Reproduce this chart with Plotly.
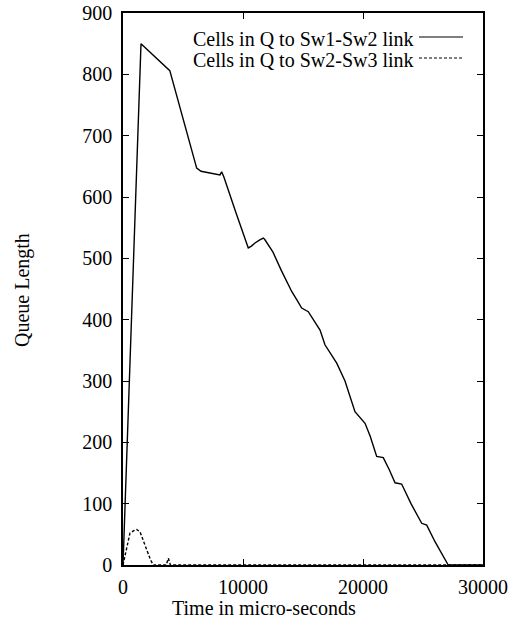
import plotly.graph_objects as go

# Queue occupancy over time (micro-seconds, cells)
t_sw12 = [0, 1500, 3900, 5000, 6140, 6500, 7000, 7500, 7900, 8080, 8220, 8400,
          9400, 10440, 10700, 11000, 11400, 11690, 11800, 12500, 13200, 14060,
          14500, 14890, 15440, 16000, 16420, 16830, 17300, 17810, 18500, 19330,
          20170, 20600, 21140, 21690, 22200, 22670, 23220, 24000, 24890, 25310,
          26000, 26500, 26970, 27100, 30000]
q_sw12 = [0, 850, 806, 729, 647, 642, 640, 638, 636, 636, 641, 633,
          575, 517, 520, 525, 530, 533, 531, 510, 480, 446,
          432, 419, 413, 396, 383, 359, 345, 329, 300, 250,
          231, 210, 177, 175, 155, 134, 132, 100, 68, 65,
          38, 20, 3, 0, 0]

t_sw23 = [0, 300, 580, 900, 1140, 1420, 1700, 2000, 2300, 2530, 3600, 3780,
          3950, 30000]
q_sw23 = [0, 30, 52, 56, 58, 54, 40, 25, 8, 0, 0, 11, 0, 0]

series_names = ["Cells in Q to Sw1-Sw2 link", "Cells in Q to Sw2-Sw3 link"]
series_dash = ["solid", "3px,2px"]

x_ticks = [0, 10000, 20000, 30000]
y_ticks = [0, 100, 200, 300, 400, 500, 600, 700, 800, 900]

FONT = "Liberation Serif"
FS = 20
W, H = 516, 624
L, R, T, B = 123, 33, 13, 59
PW, PH = W - L - R, H - T - B


def px_x(px):
    return (px - L) / PW


def px_y(py):
    return 1 - (py - T) / PH


fig = go.Figure()
for name, tx, qy, dash in zip(series_names, [t_sw12, t_sw23], [q_sw12, q_sw23], series_dash):
    fig.add_trace(go.Scatter(x=tx, y=qy, mode="lines", name=name,
                             line=dict(color="black", width=1.4, dash=dash),
                             showlegend=False))

# gnuplot-style key: text right-aligned, line sample to the right
for i, (name, dash) in enumerate(zip(series_names, series_dash)):
    ypx = 39 + 21 * i
    fig.add_annotation(x=px_x(416), y=px_y(ypx), xref="paper", yref="paper",
                       text=name, showarrow=False, xanchor="right", yanchor="middle",
                       font=dict(family=FONT, size=FS, color="black"))
    fig.add_shape(type="line", xref="paper", yref="paper",
                  x0=px_x(419), x1=px_x(463), y0=px_y(ypx - 2), y1=px_y(ypx - 2),
                  line=dict(color="black", width=1.2, dash=dash))

fig.add_annotation(x=px_x(22), y=px_y(290), xref="paper", yref="paper",
                   text="Queue Length", showarrow=False, textangle=-90,
                   xanchor="center", yanchor="middle",
                   font=dict(family=FONT, size=FS, color="black"))
fig.add_annotation(x=px_x(264), y=px_y(608), xref="paper", yref="paper",
                   text="Time in micro-seconds", showarrow=False,
                   xanchor="center", yanchor="middle",
                   font=dict(family=FONT, size=FS, color="black"))

axis_common = dict(showline=True, linecolor="black", linewidth=1.5, mirror="allticks",
                   ticks="inside", ticklen=6, tickcolor="black", tickwidth=1,
                   showgrid=False, zeroline=False,
                   tickfont=dict(family=FONT, size=FS, color="black"))

fig.update_xaxes(range=[0, 30000], tickvals=x_ticks,
                 ticktext=[str(v) for v in x_ticks], ticklabelstandoff=3, **axis_common)
fig.update_yaxes(range=[0, 900], tickvals=y_ticks,
                 ticktext=[str(v) for v in y_ticks], ticklabelstandoff=5, **axis_common)

fig.update_layout(width=W, height=H, margin=dict(l=L, r=R, t=T, b=B, autoexpand=False),
                  paper_bgcolor="white", plot_bgcolor="white",
                  font=dict(family=FONT, size=FS, color="black"), showlegend=False)

fig.write_html("out.html")
